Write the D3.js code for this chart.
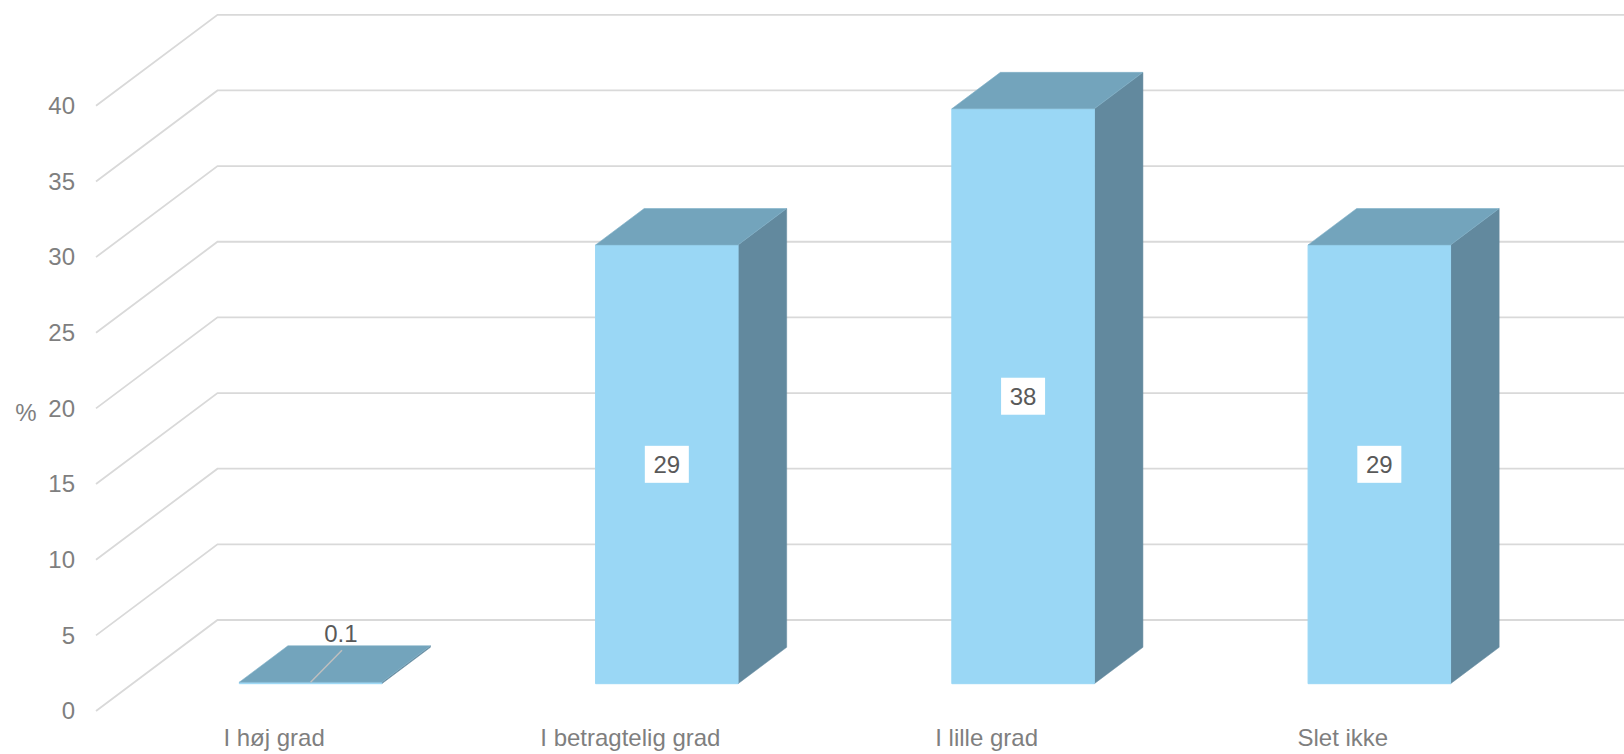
<!DOCTYPE html>
<html>
<head>
<meta charset="utf-8">
<script src="https://cdn.jsdelivr.net/npm/d3@7"></script>
<style>
  html, body { margin: 0; padding: 0; background: #ffffff; }
  svg { display: block; font-family: "Liberation Sans", Arial, sans-serif; }
</style>
</head>
<body>
<svg id="chart" width="1624" height="754"></svg>
<script>
// ---- data ----
const categories = ["I høj grad", "I betragtelig grad", "I lille grad", "Slet ikke"];
const values = [0.1, 29, 38, 29];
const valueLabels = ["0.1", "29", "38", "29"];
const yTicks = [0, 5, 10, 15, 20, 25, 30, 35, 40];
const yAxisTitle = "%";

// ---- layout ----
const W = 1624, H = 754;
const frontLeft = 96, frontRight = 1521;
const yBottom = 711, yTop = 105.8;
const depthDX = 121.5, depthDY = -91;     // full floor depth offset
const barD0 = 0.3, barD1 = 0.7;           // bar depth span
const FS = 24;

const colFront = "#9AD7F5", colTop = "#73A4BC", colSide = "#62899E";
const gridCol = "#D9D9D9";

const svg = d3.select("#chart");

const x = d3.scaleBand().domain(categories).range([frontLeft, frontRight])
  .paddingInner(0.6).paddingOuter(0.3);
const y = d3.scaleLinear().domain([0, 40]).range([yBottom, yTop]);

const P = (px, py, d) => [px + d * depthDX, py + d * depthDY];

// ---- gridlines (side wall diagonals + back wall) ----
const grid = svg.append("g");
yTicks.forEach(v => {
  const f = [frontLeft, y(v)];
  const b = P(frontLeft, y(v), 1);
  grid.append("path")
    .attr("d", d3.line()([f, b, [W, b[1]]]))
    .attr("fill", "none").attr("stroke", gridCol).attr("stroke-width", 1.8);
});

// ---- y axis labels ----
const yAxis = d3.axisLeft(y).tickValues(yTicks).tickSize(0).tickPadding(21)
  .tickFormat(d3.format("d"));
const ya = svg.append("g").attr("transform", `translate(${frontLeft},0)`).call(yAxis);
ya.select(".domain").remove();
ya.selectAll("text").attr("font-size", FS).attr("fill", "#7F7F7F")
  .attr("font-family", "Liberation Sans, Arial, sans-serif");

svg.append("text").attr("x", 26).attr("y", 412).attr("text-anchor", "middle")
  .attr("dominant-baseline", "central").attr("font-size", FS).attr("fill", "#7F7F7F")
  .text(yAxisTitle);

// ---- bars ----
const bars = svg.append("g");
categories.forEach((c, i) => {
  const v = values[i];
  const x0 = x(c), x1 = x(c) + x.bandwidth();
  const yb = y(0), yt = y(v);
  const fBL = P(x0, yb, barD0), fBR = P(x1, yb, barD0);
  const fTL = P(x0, yt, barD0), fTR = P(x1, yt, barD0);
  const bTL = P(x0, yt, barD1), bTR = P(x1, yt, barD1), bBR = P(x1, yb, barD1);
  const line = d3.line();
  // side face
  bars.append("path").attr("d", line([fBR, fTR, bTR, bBR]) + "Z")
    .attr("fill", colSide).attr("stroke", colSide).attr("stroke-width", 0.5);
  // front face
  bars.append("path").attr("d", line([fBL, fBR, fTR, fTL]) + "Z")
    .attr("fill", colFront).attr("stroke", colFront).attr("stroke-width", 1);
  // top face
  bars.append("path").attr("d", line([fTL, fTR, bTR, bTL]) + "Z")
    .attr("fill", colTop).attr("stroke", "#7FB0C8").attr("stroke-width", 0.6);
});

// ---- data labels ----
const labels = svg.append("g");
categories.forEach((c, i) => {
  const v = values[i];
  const cx = x(c) + x.bandwidth() / 2 + barD0 * depthDX;
  const yb = y(0) + barD0 * depthDY, yt = y(v) + barD0 * depthDY;
  const boxW = 44, boxH = 37;
  let lx, ly;
  if (yb - yt < boxH) {
    // small bar: label above, with leader line
    lx = cx + 0.25 * depthDX;
    ly = yt + 0.33 * depthDY - boxH / 2;
    labels.append("line").attr("x1", cx).attr("y1", yt)
      .attr("x2", lx + 1).attr("y2", ly + boxH / 2 - 2)
      .attr("stroke", "#BFBFBF").attr("stroke-width", 1.5);
  } else {
    lx = cx;
    ly = (yb + yt) / 2;
    labels.append("rect").attr("x", lx - boxW / 2).attr("y", ly - boxH / 2)
      .attr("width", boxW).attr("height", boxH).attr("fill", "#ffffff");
  }
  labels.append("text").attr("x", lx).attr("y", ly)
    .attr("text-anchor", "middle").attr("dy", "0.35em")
    .attr("font-size", FS).attr("fill", "#595959").text(valueLabels[i]);
});

// ---- category labels ----
svg.append("g").selectAll("text").data(categories).join("text")
  .attr("x", d => x(d) + x.bandwidth() / 2)
  .attr("y", 746)
  .attr("text-anchor", "middle")
  .attr("font-size", FS).attr("fill", "#7F7F7F")
  .text(d => d);
</script>
</body>
</html>
